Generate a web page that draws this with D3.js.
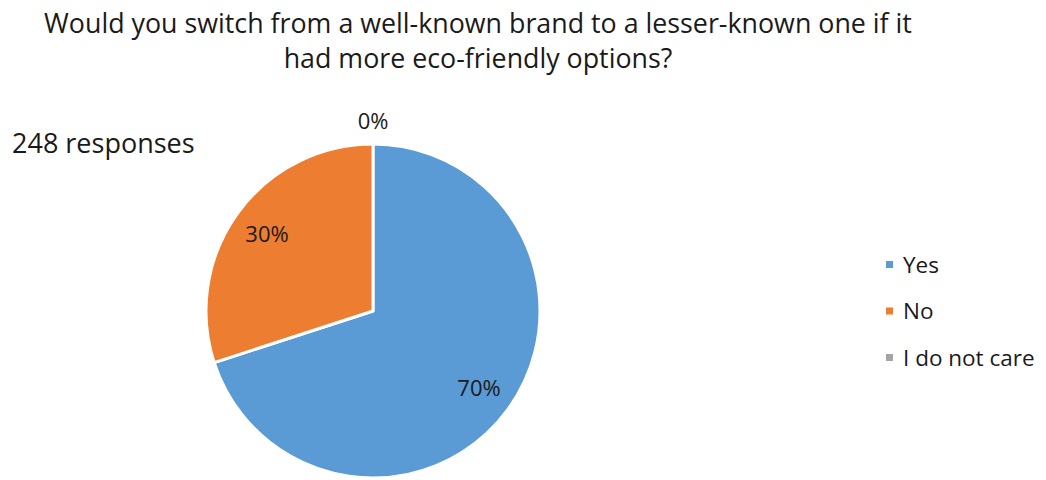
<!DOCTYPE html>
<html>
<head>
<meta charset="utf-8">
<script src="https://cdn.jsdelivr.net/npm/d3@7"></script>
<style>
  html, body { margin: 0; padding: 0; background: #fff; }
  svg { display: block; }
  text { font-family: "Open Sans", sans-serif; fill: #1a1a1a; }
</style>
</head>
<body>
<svg id="chart" width="1046" height="480"></svg>
<script>
// Survey answers (percent of 248 responses)
const categories = ["Yes", "No", "I do not care"];
const percents = [70, 30, 0];
const colors = ["#5B9BD5", "#ED7D31", "#A5A5A5"];
const titleLines = [
  "Would you switch from a well-known brand to a lesser-known one if it",
  "had more eco-friendly options?"
];
const responsesNote = "248 responses";

const svg = d3.select("#chart");

// Title
svg.append("g").selectAll("text")
  .data(titleLines)
  .join("text")
  .attr("x", 478)
  .attr("y", (d, i) => 33 + i * 35)
  .attr("text-anchor", "middle")
  .style("font-size", "26.8px")
  .text(d => d);

svg.append("text")
  .attr("x", 12)
  .attr("y", 153)
  .style("font-size", "27px")
  .text(responsesNote);

// Pie
const cx = 373, cy = 311, R = 167;
const color = d3.scaleOrdinal().domain(categories).range(colors);
const pie = d3.pie().sort(null).value(d => d.value).startAngle(0).endAngle(2 * Math.PI);
const data = categories.map((c, i) => ({ name: c, value: percents[i] }));
const arcs = pie(data);
const arc = d3.arc().innerRadius(0).outerRadius(R);
const labelArc = d3.arc().innerRadius(131).outerRadius(131);
const outerLabelArc = d3.arc().innerRadius(190).outerRadius(190);

const g = svg.append("g").attr("transform", `translate(${cx},${cy})`);
g.selectAll("path")
  .data(arcs.filter(d => d.value > 0))
  .join("path")
  .attr("d", arc)
  .attr("fill", d => color(d.data.name))
  .attr("stroke", "#fff")
  .attr("stroke-width", 3)
  .attr("stroke-linejoin", "round");

// Percentage labels: zero-size slices are labelled outside the pie
g.selectAll("text.pct")
  .data(arcs)
  .join("text")
  .attr("class", "pct")
  .attr("transform", d => {
    const p = (d.value > 0 ? labelArc : outerLabelArc).centroid(d);
    return `translate(${p[0]},${p[1]})`;
  })
  .attr("text-anchor", "middle")
  .attr("dy", "0.35em")
  .style("font-size", "22px")
  .text(d => d.value + "%");

// Legend
const legend = svg.append("g").attr("transform", "translate(886,0)");
const ly = d3.scalePoint().domain(categories).range([265, 358]);
const items = legend.selectAll("g").data(categories).join("g")
  .attr("transform", d => `translate(0,${ly(d)})`);
items.append("rect")
  .attr("x", 0).attr("y", -4)
  .attr("width", 7).attr("height", 7)
  .attr("fill", d => color(d));
items.append("text")
  .attr("x", 17)
  .attr("y", 0)
  .attr("dy", "0.35em")
  .style("font-size", "22.5px")
  .text(d => d);
</script>
</body>
</html>
